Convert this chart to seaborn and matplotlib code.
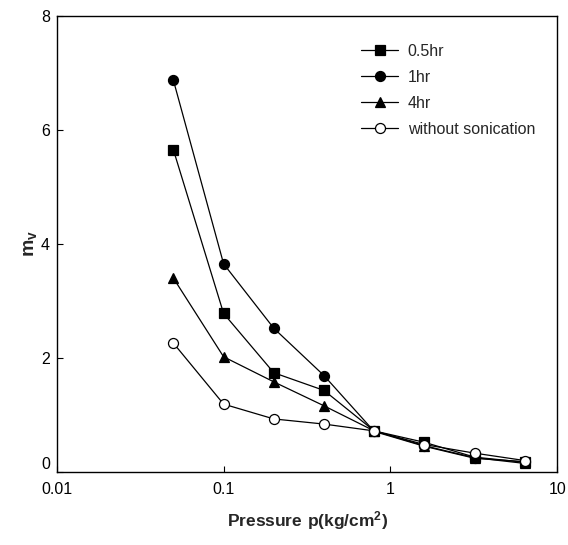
import matplotlib
matplotlib.use("Agg")
import matplotlib.pyplot as plt
import seaborn as sns
import pandas as pd

# Consolidation data: coefficient of volume compressibility vs. applied pressure
pressure = [0.05, 0.1, 0.2, 0.4, 0.8, 1.6, 3.2, 6.4]
mv_05hr = [5.65, 2.78, 1.74, 1.43, 0.72, 0.52, 0.26, 0.17]
mv_1hr = [6.87, 3.65, 2.52, 1.69, 0.71, 0.45, 0.24, 0.18]
mv_4hr = [3.40, 2.02, 1.58, 1.16, 0.72, 0.46, 0.25, 0.15]
mv_none = [2.26, 1.19, 0.93, 0.84, 0.72, 0.48, 0.33, 0.20]
labels = ["0.5hr", "1hr", "4hr", "without sonication"]

sns.set_theme(style="white")
plt.rcParams["font.family"] = ["Liberation Sans", "DejaVu Sans"]
plt.rcParams["mathtext.fontset"] = "custom"
plt.rcParams["mathtext.rm"] = "Liberation Sans"
plt.rcParams["mathtext.bf"] = "Liberation Sans:bold"

fig = plt.figure(figsize=(5.68, 5.45), dpi=100)
ax = fig.add_axes([0.100, 0.134, 0.881, 0.837])

series = [
    (mv_05hr, "s", "black"),
    (mv_1hr, "o", "black"),
    (mv_4hr, "^", "black"),
    (mv_none, "o", "white"),
]
for (vals, mk, face), lab in zip(series, labels):
    df = pd.DataFrame({"p": pressure, "mv": vals})
    sns.lineplot(data=df, x="p", y="mv", ax=ax, color="black", linewidth=0.9,
                 marker=mk, markersize=7.2 if mk != "^" else 7.5,
                 markerfacecolor=face, markeredgecolor="black",
                 markeredgewidth=0.9, label=lab)

ax.set_xscale("log")
ax.set_xlim(0.01, 10)
ax.set_ylim(0, 8)
ax.set_xticks([0.01, 0.1, 1, 10])
ax.set_xticklabels(["0.01", "0.1", "1", "10"])
ax.xaxis.set_minor_locator(matplotlib.ticker.NullLocator())
ax.set_yticks([0, 2, 4, 6, 8])
ax.tick_params(axis="both", which="major", direction="in", length=4,
               width=0.8, labelsize=11.5, color="black", labelcolor="black",
               left=True, bottom=True)
ax.tick_params(axis="x", pad=7)
ax.tick_params(axis="y", pad=5)
# lift the zero label a little so it clears the 0.01 label below it
ax.get_yticklabels()[0].set_verticalalignment("bottom")
for s in ax.spines.values():
    s.set_visible(True)
    s.set_color("black")
    s.set_linewidth(1.0)

ax.set_xlabel(r"$\mathbf{Pressure\ p(kg/cm^2)}$", fontsize=12.5, labelpad=9)
ax.set_ylabel(r"$\mathbf{m_v}$", fontsize=14, labelpad=1)

leg = ax.legend(loc="upper left", bbox_to_anchor=(0.596, 0.952), frameon=False,
                fontsize=11.5, handlelength=2.3, handletextpad=0.6,
                labelspacing=0.68, borderaxespad=0)

fig.savefig("out.png", dpi=100, facecolor="white")
